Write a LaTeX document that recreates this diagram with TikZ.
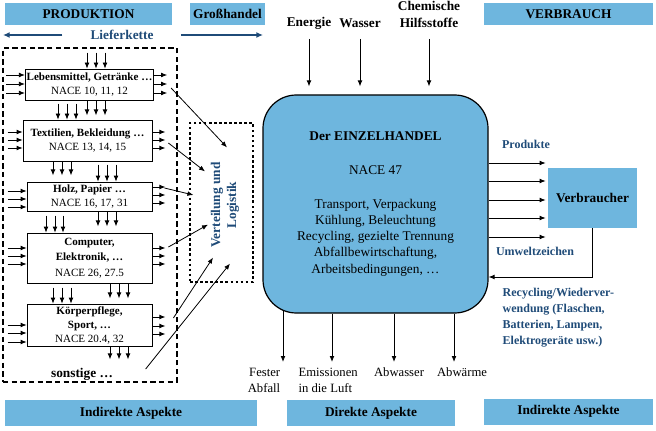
\documentclass[tikz,border=0pt]{standalone}
\usepackage{fontspec}
\setmainfont{Liberation Serif}
\usetikzlibrary{arrows.meta, positioning}
\definecolor{aspectblue}{RGB}{110,182,222}
\definecolor{labelblue}{RGB}{31,75,120}

\begin{document}
\begin{tikzpicture}[
    x=0.75pt, y=-0.75pt,
    >={Latex[length=4.5pt,width=3.6pt]},
    arr/.style={->, line width=0.6pt},
    chain/.style={-{Latex[length=5pt,width=4.5pt]}, line width=1.6pt, draw=labelblue},
    bar/.style={fill=aspectblue, font=\bfseries, minimum height=16.5pt, inner sep=0pt},
    sector/.style={draw, line width=0.6pt, fill=white, minimum width=93.75pt, align=center, inner sep=1pt, font=\fontsize{8.3}{10}\selectfont},
    retail/.style={draw, line width=0.9pt, fill=aspectblue, rounded corners=25pt, minimum width=168.75pt, minimum height=163.5pt, align=center, font=\fontsize{10}{12.2}\selectfont},
    bluelabel/.style={text=labelblue, font=\bfseries\fontsize{9}{12}\selectfont},
    output/.style={font=\fontsize{9.5}{12}\selectfont, inner sep=1pt}
  ]
  \useasboundingbox (0,0) rectangle (656,431);

  % --- HEADERS ---
  \node[bar, minimum width=125.25pt] (prod) at (88.5,14) {PRODUKTION};
  \node[bar, minimum width=56.25pt] (gross) at (227.5,14) {Großhandel};
  \node[bar, minimum width=126.75pt] (verbr) at (568.5,14) {VERBRAUCH};

  \node[bar, minimum width=189pt, minimum height=19.5pt] (indl) at (131,413) {Indirekte Aspekte};
  \node[bar, minimum width=126pt, minimum height=19.5pt] (dir) at (371,413) {Direkte Aspekte};
  \node[bar, minimum width=126.75pt, minimum height=19.5pt] (indr) at (568.5,411.5) {Indirekte Aspekte};

  % --- SUPPLY CHAIN ---
  \node[bluelabel, font=\bfseries] (lk) at (122,35) {Lieferkette};
  \coordinate (lkl) at (3,35);
  \coordinate (lkr) at (263,35);
  \draw[chain, shorten <=17.5pt] (lk.west) -- (lkl);
  \draw[chain, shorten <=17pt] (lk.east) -- (lkr);

  \node[draw, dash pattern=on 4pt off 2.5pt, line width=0.8pt, minimum width=130.5pt, minimum height=250.5pt, inner sep=0pt] (prodframe) at (90,215) {};

  % --- SECTORS ---
  \node[sector, minimum height=23.25pt] (food) at (89.5,84.5) {\textbf{Lebensmittel, Getränke \dots}\\NACE 10, 11, 12};
  \node[sector, minimum width=96.75pt, minimum height=30.75pt] (tex) at (87.5,140.5) {\textbf{Textilien, Bekleidung \dots}\\NACE 13, 14, 15};
  \node[sector, minimum height=21.75pt] (wood) at (89.5,196.5) {\textbf{Holz, Papier \dots}\\NACE 16, 17, 31};
  \node[sector, minimum height=37.5pt, font=\fontsize{8.3}{11.5}\selectfont] (elec) at (89.5,258) {\textbf{Computer,}\\\textbf{Elektronik, \dots}\\NACE 26, 27.5};
  \node[sector, minimum height=31.5pt, font=\fontsize{8.3}{10.5}\selectfont] (care) at (89.5,325) {\textbf{Körperpflege,}\\\textbf{Sport, \dots}\\NACE 20.4, 32};
  \node[font=\bfseries] (other) at (82,374) {sonstige \dots};

  % food
  \foreach \dx in {-2.5,6.5,15.5} {
    \draw[arr] ([shift={(\dx,-16)}]food.north) -- ([shift={(\dx,0)}]food.north);
    \draw[arr] ([shift={(\dx,0)}]food.south) -- ++(0,15);
  }
  \foreach \dy in {-9.5,-0.5,8.5} {
    \draw[arr] ([shift={(-19,\dy)}]food.west) -- ([shift={(0,\dy)}]food.west);
    \draw[arr] ([shift={(0,\dy)}]food.east) -- ++(13,0);
  }
  % textiles
  \foreach \dx in {-29.5,-20.5,-11.5}
    \draw[arr] ([shift={(\dx,-16)}]tex.north) -- ([shift={(\dx,0)}]tex.north);
  \foreach \dx in {-34.5,-25.5,-16.5}
    \draw[arr] ([shift={(\dx,0)}]tex.south) -- ++(0,14);
  \foreach \dy in {-8.5,-0.5,7.5} {
    \draw[arr] ([shift={(-15,\dy)}]tex.west) -- ([shift={(0,\dy)}]tex.west);
    \draw[arr] ([shift={(0,\dy)}]tex.east) -- ++(13,0);
  }
  % wood, paper
  \foreach \dx in {8.5,17.5,26.5} {
    \draw[arr] ([shift={(\dx,-17)}]wood.north) -- ([shift={(\dx,0)}]wood.north);
    \draw[arr] ([shift={(\dx,0)}]wood.south) -- ++(0,15);
  }
  \foreach \dy in {-5.5,2.5,10.5}
    \draw[arr] ([shift={(-19,\dy)}]wood.west) -- ([shift={(0,\dy)}]wood.west);
  \foreach \dy in {-9.5,-1.5,6.5}
    \draw[arr] ([shift={(0,\dy)}]wood.east) -- ++(13,0);
  % electronics
  \foreach \dx in {-43.5,-34.5,-26.5}
    \draw[arr] ([shift={(\dx,-17)}]elec.north) -- ([shift={(\dx,0)}]elec.north);
  \foreach \dx in {20.5,29.5,38.5}
    \draw[arr] ([shift={(\dx,0)}]elec.south) -- ++(0,15);
  \foreach \dy in {-10,-2,6} {
    \draw[arr] ([shift={(-19,\dy)}]elec.west) -- ([shift={(0,\dy)}]elec.west);
    \draw[arr] ([shift={(0,\dy)}]elec.east) -- ++(13,0);
  }
  % personal care
  \foreach \dx in {-36.5,-27.5,-18.5}
    \draw[arr] ([shift={(\dx,-16)}]care.north) -- ([shift={(\dx,0)}]care.north);
  \foreach \dx in {20.5,29.5,38.5}
    \draw[arr] ([shift={(\dx,0)}]care.south) -- ++(0,13);
  \foreach \dy in {0,8,17}
    \draw[arr] ([shift={(-19,\dy)}]care.west) -- ([shift={(0,\dy)}]care.west);
  \foreach \dy in {-8,1,9}
    \draw[arr] ([shift={(0,\dy)}]care.east) -- ++(13,0);

  % --- DISTRIBUTION ---
  \node[draw, dash pattern=on 2pt off 1.8pt, line width=0.9pt, minimum width=47.25pt, minimum height=119.25pt, inner sep=0pt] (lg) at (221.5,202.5) {};
  \node[bluelabel, font=\bfseries, rotate=90, align=center] (lgtext) at (225,205) {Verteilung und\\Logistik};

  \draw[arr] ([shift={(17,3.5)}]food.east) -- ([shift={(5.5,25)}]lg.north);
  \draw[arr] ([shift={(16,2.5)}]tex.east) -- ([shift={(-16.5,49)}]lg.north);
  \draw[arr] ([shift={(12,-8.5)}]wood.east) -- ([shift={(4,-7.5)}]lg.west);
  \draw[arr] ([shift={(16,-11)}]elec.east) -- ([shift={(-13.5,-58)}]lg.south);
  \draw[arr] ([shift={(21,-7)}]care.east) -- ([shift={(-8.5,-25)}]lg.south);
  \draw[arr] ([shift={(28,-5)}]other.east) -- ([shift={(8.5,-19)}]lg.south);

  % --- RETAIL ---
  \node[retail] (eh) at (375.5,204) {\textbf{Der EINZELHANDEL}\\[13pt]
    NACE 47\\[13pt]
    Transport, Verpackung\\
    Kühlung, Beleuchtung\\
    Recycling, gezielte Trennung\\
    Abfallbewirtschaftung,\\
    Arbeitsbedingungen, \dots};

  % inputs
  \node[font=\bfseries] (energie) at (309,23) {Energie};
  \node[font=\bfseries] (wasser) at (360,23) {Wasser};
  \node[font=\bfseries, align=center] (chem) at (429,14.5) {Chemische\\[0.75pt]Hilfsstoffe};
  \coordinate (intop) at (0,39);
  \foreach \src in {energie, wasser, chem}
    \draw[arr, shorten >=6pt] (\src |- intop) -- (\src |- eh.north);

  % outputs
  \coordinate (outbot) at (0,362);
  \foreach \dx/\dy in {-92.5/-3, -43.5/0, 18.5/0, 78.5/0}
    \draw[arr] ([shift={(\dx,\dy)}]eh.south) -- ([shift={(\dx,0)}]eh.south |- outbot);
  \node[output, align=right] (fester) at (264,380) {Fester\\Abfall};
  \node[output, align=left, anchor=west] (emiss) at (297,380) {Emissionen\\in die Luft};
  \node[output] (abwasser) at (399,372) {Abwasser};
  \node[output] (abwaerme) at (462,372) {Abwärme};

  % --- CONSUMER ---
  \node[fill=aspectblue, font=\bfseries, minimum width=66.75pt, minimum height=45pt] (vb) at (592.5,198) {Verbraucher};
  \foreach \dy in {-41,-23,-4,14,33}
    \draw[arr] ([shift={(0,\dy)}]eh.east) -- ++(57,0);
  \draw[arr] (vb.south) |- ([shift={(0,73)}]eh.east);

  \node[bluelabel] (prodkt) at (526,144) {Produkte};
  \node[bluelabel] (umwelt) at (535,251) {Umweltzeichen};
  \node[bluelabel, align=left, anchor=north west] (recyc) at (498,283) {Recycling/Wiederver-\\wendung (Flaschen,\\Batterien, Lampen,\\Elektrogeräte usw.)};

\end{tikzpicture}
\end{document}
